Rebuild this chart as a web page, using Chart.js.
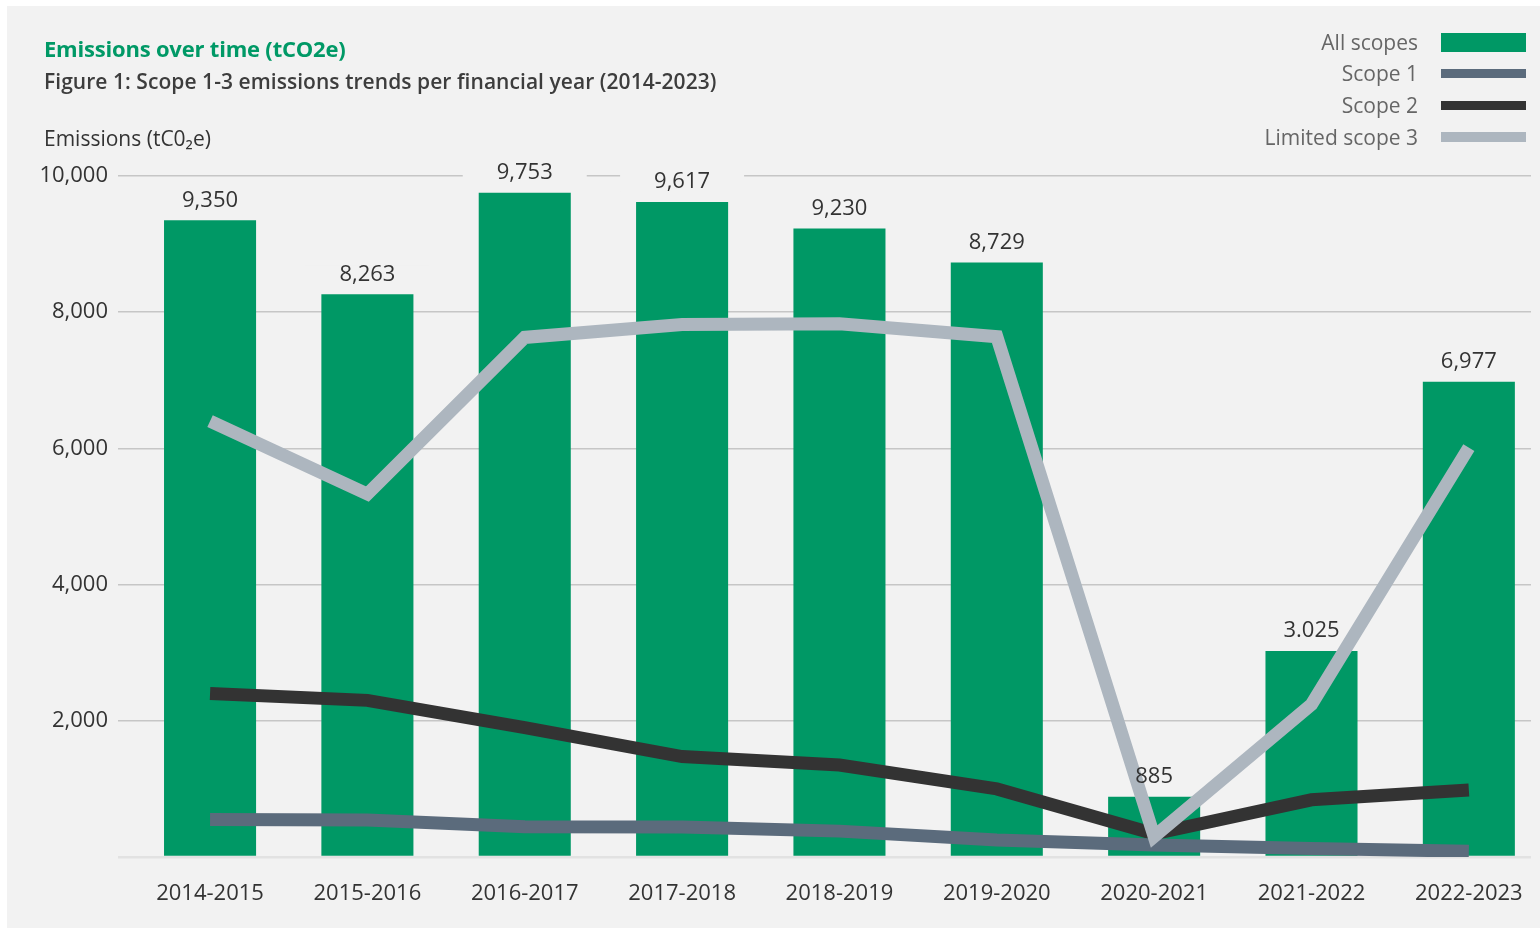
<!DOCTYPE html>
<html>
<head>
<meta charset="utf-8">
<script src="https://cdn.jsdelivr.net/npm/chart.js@4.4.1/dist/chart.umd.min.js"></script>
<style>
  html, body { margin:0; padding:0; background:#ffffff; }
  body { width:1540px; height:930px; position:relative; overflow:hidden; font-family:"Open Sans", "Noto Sans", sans-serif; }
  #panel { position:absolute; left:7px; top:6px; width:1533px; height:922px; background:#f2f2f2; }
  #wrap { position:absolute; left:0; top:0; width:1540px; height:930px; }
  .t { position:absolute; white-space:nowrap; }
  #title { left:44px; top:33px; font-size:22px; font-weight:700; color:#009966; letter-spacing:-0.2px; }
  #subtitle { left:44px; top:67px; font-size:21px; font-weight:600; color:#3d3d3d; letter-spacing:0.05px; }
  #ytitle { left:44px; top:124px; font-size:21px; font-weight:400; color:#333; }
  .lg-text { position:absolute; right:122px; font-size:21px; color:#666; text-align:right; white-space:nowrap; }
  .lg-box { position:absolute; left:1441px; width:85px; }
</style>
</head>
<body>
<div id="panel"></div>
<div id="wrap"><canvas id="c"></canvas></div>
<div class="t" id="title">Emissions over time (tCO2e)</div>
<div class="t" id="subtitle">Figure 1: Scope 1-3 emissions trends per financial year (2014-2023)</div>
<div class="t" id="ytitle">Emissions (tC0₂e)</div>
<div id="legend"></div>
<script>
// ---- data ----
const categories = ['2014-2015','2015-2016','2016-2017','2017-2018','2018-2019','2019-2020','2020-2021','2021-2022','2022-2023'];
const allScopes = [9350, 8263, 9753, 9617, 9230, 8729, 885, 3025, 6977];
const allScopesLabels = ['9,350','8,263','9,753','9,617','9,230','8,729','885','3.025','6,977'];
const scope1 = [550, 545, 445, 440, 380, 250, 175, 125, 85];
const scope2 = [2400, 2300, 1900, 1475, 1350, 1000, 340, 840, 985];
const limitedScope3 = [6400, 5330, 7630, 7820, 7830, 7640, 300, 2240, 6010];
const yTicks = [0, 2000, 4000, 6000, 8000, 10000];

const seriesNames = ['All scopes','Scope 1','Scope 2','Limited scope 3'];
const seriesColors = ['#009865','#5b6b7c','#333333','#adb6bf'];

// ---- legend (HTML) ----
const legendRows = [
  {name: seriesNames[0], color: seriesColors[0], cy: 42, h: 19},
  {name: seriesNames[1], color: seriesColors[1], cy: 73, h: 9},
  {name: seriesNames[2], color: seriesColors[2], cy: 105, h: 9},
  {name: seriesNames[3], color: seriesColors[3], cy: 137, h: 10}
];
const lg = document.getElementById('legend');
legendRows.forEach(r => {
  const t = document.createElement('div');
  t.className = 'lg-text'; t.textContent = r.name;
  t.style.top = (r.cy - 14) + 'px';
  lg.appendChild(t);
  const b = document.createElement('div');
  b.className = 'lg-box';
  b.style.top = (r.cy - r.h/2) + 'px'; b.style.height = r.h + 'px'; b.style.background = r.color;
  lg.appendChild(b);
});

const pts = arr => arr.map((v,i) => ({x:i, y:v}));
const tickFont = {family:'"Open Sans", "Noto Sans", sans-serif', size:22};

const barLabelPlugin = {
  id:'barLabels',
  beforeDatasetsDraw(chart) {
    const meta = chart.getDatasetMeta(0);
    const ctx = chart.ctx;
    ctx.save();
    meta.data.forEach((bar) => {
      ctx.fillStyle = '#f2f2f2';
      ctx.fillRect(bar.x - 62, bar.y - 29, 124, 18);
    });
    ctx.restore();
  },
  afterDatasetsDraw(chart) {
    const meta = chart.getDatasetMeta(0);
    const ctx = chart.ctx;
    ctx.save();
    ctx.font = '22px "Open Sans", "Noto Sans", sans-serif';
    ctx.fillStyle = '#333333';
    ctx.textAlign = 'center';
    ctx.textBaseline = 'middle';
    meta.data.forEach((bar, i) => {
      ctx.fillText(allScopesLabels[i], bar.x, bar.y - 20);
    });
    ctx.restore();
  }
};

new Chart(document.getElementById('c'), {
  data: {
    datasets: [
      { type:'bar', label:seriesNames[0], data:pts(allScopes), backgroundColor:seriesColors[0],
        barPercentage:0.585, categoryPercentage:1, order:10 },
      { type:'line', label:seriesNames[2], data:pts(scope2), borderColor:seriesColors[2], borderWidth:13,
        pointRadius:0, tension:0, borderCapStyle:'butt', borderJoinStyle:'miter', order:3 },
      { type:'line', label:seriesNames[1], data:pts(scope1), borderColor:seriesColors[1], borderWidth:13,
        pointRadius:0, tension:0, borderCapStyle:'butt', borderJoinStyle:'miter', order:2 },
      { type:'line', label:seriesNames[3], data:pts(limitedScope3), borderColor:seriesColors[3], borderWidth:13,
        pointRadius:0, tension:0, borderCapStyle:'butt', borderJoinStyle:'miter', order:1 }
    ]
  },
  options: {
    responsive:true, maintainAspectRatio:false, animation:false,
    layout:{ padding:{ left:0, right:9, top:176, bottom:0 } },
    plugins:{ legend:{display:false}, tooltip:{enabled:false}, title:{display:false} },
    scales:{
      x:{
        type:'linear', min:-0.585, max:8.395, offset:false,
        grid:{display:false, drawTicks:false, offset:false},
        border:{display:false},
        afterBuildTicks:(s)=>{ s.ticks = categories.map((c,i)=>({value:i})); },
        afterFit:(s)=>{ s.height = 73; s.paddingLeft = 0; s.paddingRight = 0; },
        ticks:{ callback:(v)=>categories[v], padding:24, font:tickFont, color:'#333', maxRotation:0, autoSkip:false }
      },
      y:{
        min:0, max:10000,
        afterBuildTicks:(s)=>{ s.ticks = yTicks.map(v=>({value:v})); },
        afterFit:(s)=>{ s.width = 118; s.paddingTop = 0; s.paddingBottom = 0; },
        border:{display:false},
        grid:{ drawTicks:false,
          color:(c)=> c.tick && c.tick.value===0 ? '#e2e2e2' : '#c6c6c6',
          lineWidth:(c)=> c.tick && c.tick.value===0 ? 2.5 : 1.5 },
        ticks:{ callback:(v)=> v===0 ? '' : v.toLocaleString('en-US'), padding:10, font:tickFont, color:'#333' }
      }
    }
  },
  plugins:[barLabelPlugin]
});
</script>
</body>
</html>
